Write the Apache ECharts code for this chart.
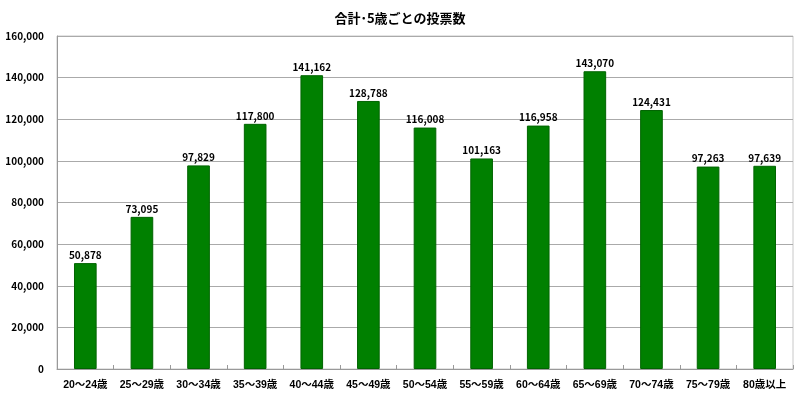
<!DOCTYPE html>
<html>
<head>
<meta charset="utf-8">
<script src="https://cdn.jsdelivr.net/npm/echarts@6/dist/echarts.min.js"></script>
<style>
html, body { margin: 0; padding: 0; background: #fff; }
#main { width: 800px; height: 400px; }
</style>
</head>
<body>
<div id="main"></div>
<script>
// 年齢区分
var categories = ['20～24歳', '25～29歳', '30～34歳', '35～39歳', '40～44歳', '45～49歳', '50～54歳',
    '55～59歳', '60～64歳', '65～69歳', '70～74歳', '75～79歳', '80歳以上'];
// 投票数
var votes = [50878, 73095, 97829, 117800, 141162, 128788, 116008, 101163, 116958, 143070, 124431, 97263, 97639];

var fontFamily = '"Noto Sans CJK JP", "Liberation Sans", sans-serif';
var labelFont = '"Liberation Sans", "Noto Sans CJK JP", sans-serif';
var myChart = echarts.init(document.getElementById('main'));
var option = {
    animation: false,
    textStyle: { fontFamily: fontFamily },
    title: {
        text: '合計･5歳ごとの投票数',
        left: 'center',
        top: 7,
        textStyle: { fontSize: 13, fontWeight: 'bold', color: '#000', fontFamily: fontFamily }
    },
    grid: {
        left: 57,
        right: 7,
        top: 36,
        bottom: 31,
        show: true,
        borderColor: '#c8c8c8',
        borderWidth: 1
    },
    xAxis: {
        type: 'category',
        data: categories,
        axisLine: { lineStyle: { color: '#999', width: 1 } },
        axisTick: { show: true, inside: true, length: 4, lineStyle: { color: '#999' } },
        axisLabel: { color: '#000', fontSize: 10.5, fontWeight: 'bold', margin: 11, interval: 0, fontFamily: labelFont }
    },
    yAxis: {
        type: 'value',
        min: 0,
        max: 160000,
        interval: 20000,
        axisLine: { show: true, lineStyle: { color: '#999' } },
        axisTick: { show: false },
        splitLine: { lineStyle: { color: '#aaa', width: 1 } },
        axisLabel: {
            color: '#000',
            fontSize: 10,
            fontWeight: 'bold',
            margin: 13,
            formatter: function (v) { return v.toLocaleString('en-US'); }
        }
    },
    series: [{
        name: '投票数',
        type: 'bar',
        data: votes,
        barWidth: '40%',
        itemStyle: { color: '#008000', borderColor: '#006400', borderWidth: 1 },
        label: {
            show: true,
            position: 'top',
            distance: 3,
            color: '#000',
            fontSize: 10,
            fontWeight: 'bold',
            formatter: function (p) { return p.value.toLocaleString('en-US'); }
        }
    }]
};
myChart.setOption(option);
</script>
</body>
</html>
